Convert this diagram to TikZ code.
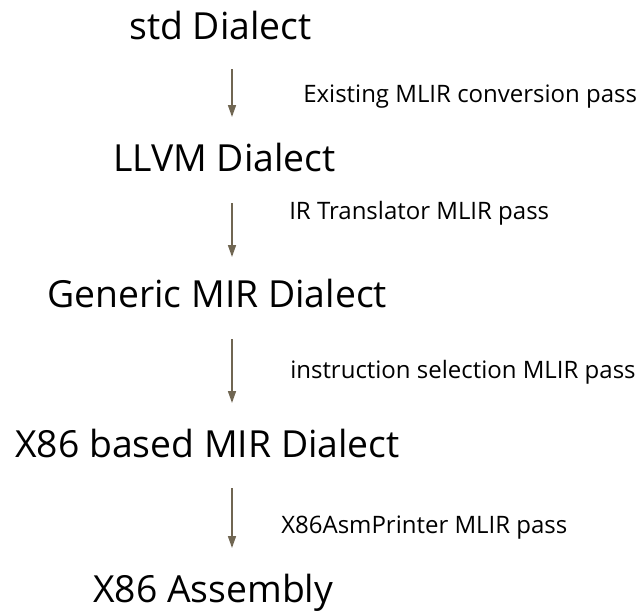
\documentclass[tikz,border=0pt]{standalone}
\usepackage{fontspec}
\setmainfont{Open Sans}
\usepackage{tikz}
\usetikzlibrary{arrows.meta}
\definecolor{passarrow}{RGB}{112,102,82}

\begin{document}
\begin{tikzpicture}[x=0.75pt,y=-0.75pt,
  dialect/.style={font=\fontsize{28}{32}\selectfont,anchor=base west,inner sep=0pt},
  passlabel/.style={font=\fontsize{18}{21}\selectfont,anchor=base west,inner sep=0pt},
  passflow/.style={-{Triangle[length=9pt,width=6pt]},draw=passarrow,fill=passarrow,line width=1.2pt}]
\useasboundingbox (0,0) rectangle (637,611);

\node[dialect] (std) at (129,39) {std Dialect};
\node[dialect] (llvm) at (113,171) {LLVM Dialect};
\node[dialect] (gmir) at (47,307) {Generic MIR Dialect};
\node[dialect] (xmir) at (15,457) {X86 based MIR Dialect};
\node[dialect] (asm) at (93,602) {X86 Assembly};

\node[passlabel] (conv) at (303,102) {Existing MLIR conversion pass};
\node[passlabel] (trans) at (289,219) {IR Translator MLIR pass};
\node[passlabel] (isel) at (290,378) {instruction selection MLIR pass};
\node[passlabel] (print) at (281,533) {X86AsmPrinter MLIR pass};

\coordinate (a1s) at (232,69);  \coordinate (a1e) at (232,117);
\coordinate (a2s) at (232,203); \coordinate (a2e) at (232,257);
\coordinate (a3s) at (232,339); \coordinate (a3e) at (232,403);
\coordinate (a4s) at (232,488); \coordinate (a4e) at (232,548);

\draw[passflow] (a1s) -- (a1e);
\draw[passflow] (a2s) -- (a2e);
\draw[passflow] (a3s) -- (a3e);
\draw[passflow] (a4s) -- (a4e);
\end{tikzpicture}
\end{document}
